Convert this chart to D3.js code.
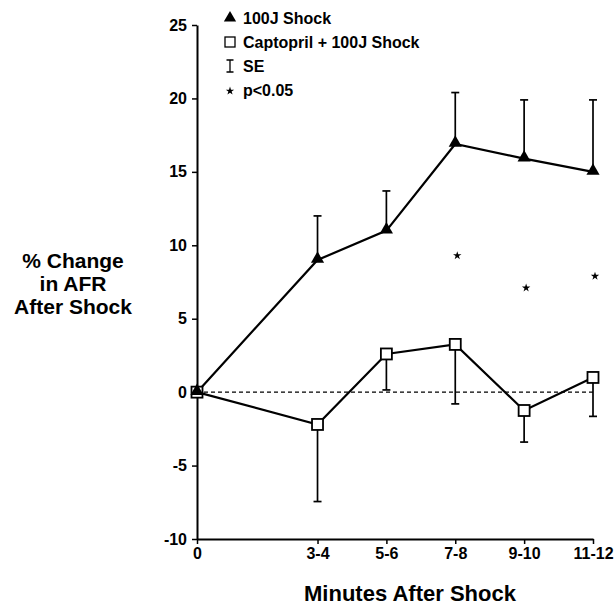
<!DOCTYPE html>
<html>
<head>
<meta charset="utf-8">
<script src="https://cdn.jsdelivr.net/npm/d3@7"></script>
<style>
  body { margin: 0; background: #fff; }
  svg { display: block; font-family: "Liberation Sans", Arial, Helvetica, sans-serif; font-weight: bold; }
</style>
</head>
<body>
<div id="chart"></div>
<script>
const width = 615;
const height = 608;

// x categories (minutes after shock) and their mid-minute positions
const categories = ["0", "3-4", "5-6", "7-8", "9-10", "11-12"];
const minutes = [0, 3.5, 5.5, 7.5, 9.5, 11.5];

// % change in AFR
const shock = [0, 9, 11, 16.9, 15.9, 15];
const shockSE = [0, 3, 2.7, 3.5, 4, 4.9];
const captopril = [0, -2.2, 2.6, 3.25, -1.25, 1.0];
const captoprilSE = [0, 5.25, 2.45, 4.05, 2.15, 2.65];

// p<0.05 markers
const sigCategories = ["7-8", "9-10", "11-12"];
const sigY = [9.3, 7.1, 7.9];

const yTicks = [-10, -5, 0, 5, 10, 15, 20, 25];
const legendLabels = ["100J Shock", "Captopril + 100J Shock", "SE", "p<0.05"];

const x = d3.scaleLinear().domain([0, 11.5]).range([197, 593]);
const y = d3.scaleLinear().domain([-10, 25]).range([539, 25]);

const svg = d3.select("#chart").append("svg")
  .attr("width", width)
  .attr("height", height);

// axes
const yAxis = svg.append("g")
  .attr("transform", `translate(${x(0)},0)`)
  .call(d3.axisLeft(y).tickValues(yTicks).tickFormat(d => String(d))
    .tickSize(5).tickSizeOuter(0).tickPadding(5));

const xAxis = svg.append("g")
  .attr("transform", `translate(0,${y(-10)})`)
  .call(d3.axisBottom(x).tickValues(minutes).tickFormat((d, i) => categories[i])
    .tickSize(5).tickSizeOuter(0).tickPadding(4));

[yAxis, xAxis].forEach(a => {
  a.select(".domain").attr("stroke", "#000").attr("stroke-width", 2);
  a.selectAll(".tick line").attr("stroke", "#000").attr("stroke-width", 1.5);
  a.selectAll(".tick text")
    .attr("fill", "#000")
    .attr("font-size", 16)
    .attr("font-weight", "bold")
    .attr("font-family", "Liberation Sans, Arial, sans-serif");
});

// dashed zero line
svg.append("line")
  .attr("x1", x(0)).attr("x2", x(11.5))
  .attr("y1", y(0)).attr("y2", y(0))
  .attr("stroke", "#000")
  .attr("stroke-width", 1.2)
  .attr("stroke-dasharray", "4,3");

const capW = 4;

// error bars: shock goes up, captopril goes down
const errs = svg.append("g").attr("stroke", "#000").attr("stroke-width", 1.7);
minutes.forEach((m, i) => {
  if (i === 0) return;
  const top = shock[i] + shockSE[i];
  errs.append("line").attr("x1", x(m)).attr("x2", x(m)).attr("y1", y(shock[i])).attr("y2", y(top));
  errs.append("line").attr("x1", x(m) - capW).attr("x2", x(m) + capW).attr("y1", y(top)).attr("y2", y(top));
  const bot = captopril[i] - captoprilSE[i];
  errs.append("line").attr("x1", x(m)).attr("x2", x(m)).attr("y1", y(captopril[i])).attr("y2", y(bot));
  errs.append("line").attr("x1", x(m) - capW).attr("x2", x(m) + capW).attr("y1", y(bot)).attr("y2", y(bot));
});

const line = d3.line().x(d => x(d[0])).y(d => y(d[1]));

svg.append("path")
  .datum(d3.zip(minutes, shock))
  .attr("d", line)
  .attr("fill", "none")
  .attr("stroke", "#000")
  .attr("stroke-width", 2.2);

svg.append("path")
  .datum(d3.zip(minutes, captopril))
  .attr("d", line)
  .attr("fill", "none")
  .attr("stroke", "#000")
  .attr("stroke-width", 2.2);

const tri = d3.symbol().type(d3.symbolTriangle).size(75);

svg.append("g").selectAll("rect")
  .data(d3.zip(minutes, captopril))
  .join("rect")
  .attr("x", d => x(d[0]) - 5.5)
  .attr("y", d => y(d[1]) - 5.5)
  .attr("width", 11)
  .attr("height", 11)
  .attr("fill", "#fff")
  .attr("stroke", "#000")
  .attr("stroke-width", 1.8);

svg.append("g").selectAll("path")
  .data(d3.zip(minutes, shock))
  .join("path")
  .attr("transform", d => `translate(${x(d[0])},${y(d[1]) - 1})`)
  .attr("d", tri)
  .attr("fill", "#000");

// significance stars
const star = d3.symbol().type(d3.symbolStar).size(22);
svg.append("g").selectAll("path")
  .data(sigCategories)
  .join("path")
  .attr("transform", (c, i) => `translate(${x(minutes[categories.indexOf(c)]) + 2},${y(sigY[i])})`)
  .attr("d", star)
  .attr("fill", "#000");

// legend
const legend = svg.append("g").attr("font-size", 16).attr("fill", "#000");
const legY = [18, 42, 66, 90];
const legX = 230;
legend.append("path")
  .attr("transform", `translate(${legX},${legY[0]})`)
  .attr("d", d3.symbol().type(d3.symbolTriangle).size(65))
  .attr("fill", "#000");
legend.append("rect")
  .attr("x", legX - 5).attr("y", legY[1] - 5)
  .attr("width", 10).attr("height", 10)
  .attr("fill", "#fff").attr("stroke", "#000").attr("stroke-width", 1.3);
legend.append("path")
  .attr("d", `M${legX - 3.5},${legY[2] - 6}H${legX + 3.5}M${legX},${legY[2] - 6}V${legY[2] + 6}M${legX - 3.5},${legY[2] + 6}H${legX + 3.5}`)
  .attr("stroke", "#000").attr("stroke-width", 1.3).attr("fill", "none");
legend.append("path")
  .attr("transform", `translate(${legX},${legY[3] + 1})`)
  .attr("d", d3.symbol().type(d3.symbolStar).size(22))
  .attr("fill", "#000");
legend.selectAll("text")
  .data(legendLabels)
  .join("text")
  .attr("x", legX + 13)
  .attr("y", (d, i) => legY[i] + 6)
  .text(d => d);

// axis titles
const yTitle = svg.append("text")
  .attr("text-anchor", "middle")
  .attr("font-size", 21)
  .attr("fill", "#000");
["% Change", "in AFR", "After Shock"].forEach((t, i) => {
  yTitle.append("tspan").attr("x", 73).attr("y", 268 + i * 23).text(t);
});

svg.append("text")
  .attr("x", 410)
  .attr("y", 601)
  .attr("text-anchor", "middle")
  .attr("font-size", 22)
  .attr("fill", "#000")
  .text("Minutes After Shock");
</script>
</body>
</html>
